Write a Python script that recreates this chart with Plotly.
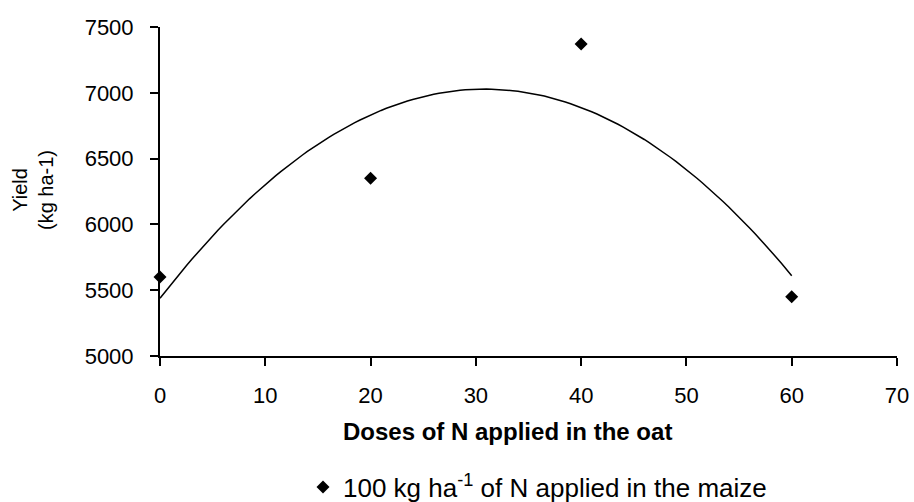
import numpy as np
import plotly.graph_objects as go

# Data
doses = [0, 20, 40, 60]
yield_vals = [5600, 6350, 7370, 5450]
x_ticks = [0, 10, 20, 30, 40, 50, 60, 70]
y_ticks = [5000, 5500, 6000, 6500, 7000, 7500]
series_name = "100 kg ha<sup>-1</sup> of N applied in the maize"

# Polynomial (2nd order) trendline fitted to the data, as in the original
coef = np.polyfit(doses, yield_vals, 2)
x_fit = np.linspace(min(doses), max(doses), 121)
y_fit = np.polyval(coef, x_fit)

FONT = "Liberation Sans, Arial, sans-serif"

fig = go.Figure()
fig.add_trace(go.Scatter(
    x=x_fit, y=y_fit, mode="lines",
    line=dict(color="black", width=1.5),
    showlegend=False, hoverinfo="skip",
))
fig.add_trace(go.Scatter(
    x=doses, y=yield_vals, mode="markers", name=series_name,
    marker=dict(symbol="diamond", size=10, color="black"),
    cliponaxis=False,
))

fig.update_layout(
    width=914, height=502,
    margin=dict(l=160, r=17, t=27, b=146, autoexpand=False),
    paper_bgcolor="white", plot_bgcolor="white",
    font=dict(family=FONT, color="black", size=20),
    showlegend=True,
    legend=dict(
        orientation="h", xref="container", yref="container",
        x=303 / 914, xanchor="left",
        y=1 - 487 / 502, yanchor="middle",
        font=dict(size=26), bgcolor="rgba(0,0,0,0)",
    ),
    xaxis=dict(
        range=[0, 70], tickvals=x_ticks, ticktext=[str(v) for v in x_ticks],
        showgrid=False, zeroline=False, showline=True, linecolor="black", linewidth=2,
        ticks="outside", ticklen=8, tickwidth=2, tickcolor="black",
        ticklabelstandoff=11, tickfont=dict(size=22), automargin=False,
    ),
    yaxis=dict(
        range=[5000, 7500], tickvals=y_ticks, ticktext=[str(v) for v in y_ticks],
        showgrid=False, zeroline=False, showline=True, linecolor="black", linewidth=2,
        ticks="outside", ticklen=8, tickwidth=2, tickcolor="black",
        ticklabelstandoff=12, tickfont=dict(size=22), automargin=False,
    ),
    annotations=[
        dict(text="<b>Doses of N applied in the oat</b>", xref="paper", yref="paper",
             x=(507 - 160) / 737, y=(356 - 431) / 329, xanchor="center", yanchor="middle",
             showarrow=False, font=dict(size=24)),
        dict(text="Yield<br>(kg ha-1)", xref="paper", yref="paper",
             x=(33 - 160) / 737, y=(356 - 190) / 329, xanchor="center", yanchor="middle",
             textangle=-90, showarrow=False, font=dict(size=20)),
    ],
)

fig.write_html("out.html", config={"displayModeBar": False},
               post_script="document.body.style.margin='0';")
